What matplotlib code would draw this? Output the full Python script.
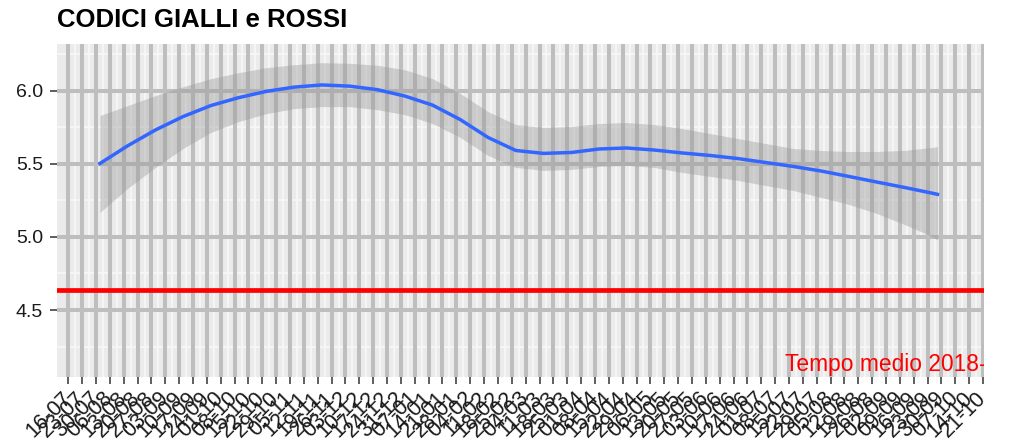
import numpy as np
import pandas as pd
import matplotlib
matplotlib.use("Agg")
import matplotlib.pyplot as plt
import matplotlib.dates as mdates

plt.rcParams["font.family"] = ["Liberation Sans", "DejaVu Sans"]

# smoothed waiting time (loess fit) with its confidence band
dates = ["2018-08-01", "2018-08-15", "2018-08-29", "2018-09-12", "2018-09-26",
         "2018-10-10", "2018-10-24", "2018-11-07", "2018-11-21", "2018-12-05",
         "2018-12-19", "2019-01-02", "2019-01-16", "2019-01-30", "2019-02-13",
         "2019-02-27", "2019-03-13", "2019-03-27", "2019-04-10", "2019-04-24",
         "2019-05-08", "2019-05-22", "2019-06-05", "2019-06-19", "2019-07-03",
         "2019-07-17", "2019-07-31", "2019-08-14", "2019-08-28", "2019-09-11",
         "2019-09-25", "2019-09-28"]
fit = [5.502, 5.623, 5.731, 5.823, 5.898, 5.952, 5.995, 6.024, 6.039, 6.031,
       6.007, 5.963, 5.901, 5.802, 5.680, 5.591, 5.571, 5.577, 5.601, 5.608,
       5.594, 5.574, 5.557, 5.536, 5.509, 5.482, 5.451, 5.414, 5.376, 5.339,
       5.300, 5.291]
upper = [5.830, 5.898, 5.966, 6.027, 6.082, 6.123, 6.157, 6.177, 6.191, 6.187,
         6.174, 6.143, 6.082, 5.980, 5.857, 5.768, 5.748, 5.755, 5.775, 5.782,
         5.768, 5.741, 5.707, 5.673, 5.639, 5.605, 5.591, 5.584, 5.584, 5.591,
         5.611, 5.618]
lower = [5.168, 5.332, 5.475, 5.605, 5.714, 5.789, 5.843, 5.877, 5.891, 5.891,
         5.870, 5.836, 5.775, 5.680, 5.557, 5.475, 5.455, 5.461, 5.482, 5.489,
         5.475, 5.441, 5.414, 5.387, 5.352, 5.318, 5.271, 5.223, 5.162, 5.087,
         5.005, 4.978]

media_2018 = 4.64
media_label = "Tempo medio 2018-19"
title = "CODICI GIALLI e ROSSI"

x = pd.to_datetime(dates)
weeks = pd.date_range("2018-07-16", "2019-10-21", freq="7D")

fig = plt.figure(figsize=(10.11, 4.41), dpi=100)
ax = fig.add_axes([57 / 1011, 1 - 377 / 441, 927 / 1011, 333 / 441])
ax.set_facecolor("#EBEBEB")

# grid: grey major lines, white minor ones
for d in weeks:
    ax.axvline(d, color="#BEBEBE", lw=2.9, zorder=0.5)
for d in weeks[:-1] + pd.Timedelta(days=3.5):
    ax.axvline(d, color="#F7F7F7", lw=1.3, zorder=0.4)
for v in [4.5, 5.0, 5.5, 6.0]:
    ax.axhline(v, color="#BEBEBE", lw=2.9, zorder=0.5)
for v in [4.25, 4.75, 5.25, 5.75, 6.25]:
    ax.axhline(v, color="#F7F7F7", lw=1.3, zorder=0.4)

ax.fill_between(x, lower, upper, color="#999999", alpha=0.4, lw=0, zorder=2)
ax.plot(x, fit, color="#3366FF", lw=2.5, zorder=3)
ax.axhline(media_2018, color="#FF0000", lw=3.4, zorder=3)
ax.text(pd.Timestamp("2019-07-13"), 4.08, media_label, color="#FF0000",
        fontsize=16.4, ha="left", va="baseline", clip_on=True, zorder=4)

ax.set_xlim(pd.Timestamp("2018-07-16") - pd.Timedelta(days=5.7),
            pd.Timestamp("2019-10-21") + pd.Timedelta(days=0.5))
ax.set_ylim(4.042, 6.319)

ax.set_xticks(weeks)
ax.set_xticklabels([d.strftime("%d-%m") for d in weeks], rotation=45,
                   ha="right", va="center", rotation_mode="anchor")
ax.set_yticks([4.5, 5.0, 5.5, 6.0])
ax.set_yticklabels(["4.5", "5.0", "5.5", "6.0"])
ax.tick_params(axis="both", length=5, width=1.1, color="#333333",
               labelcolor="#1A1A1A")
ax.tick_params(axis="y", labelsize=14, pad=5)
ax.tick_params(axis="x", labelsize=15.5, pad=8)
for s in ax.spines.values():
    s.set_visible(False)
ax.grid(False)

fig.text(57 / 1011, 1 - 27 / 441, title, fontsize=18.5, fontweight="bold",
         ha="left", va="baseline")

fig.savefig("out.png", dpi=100)
